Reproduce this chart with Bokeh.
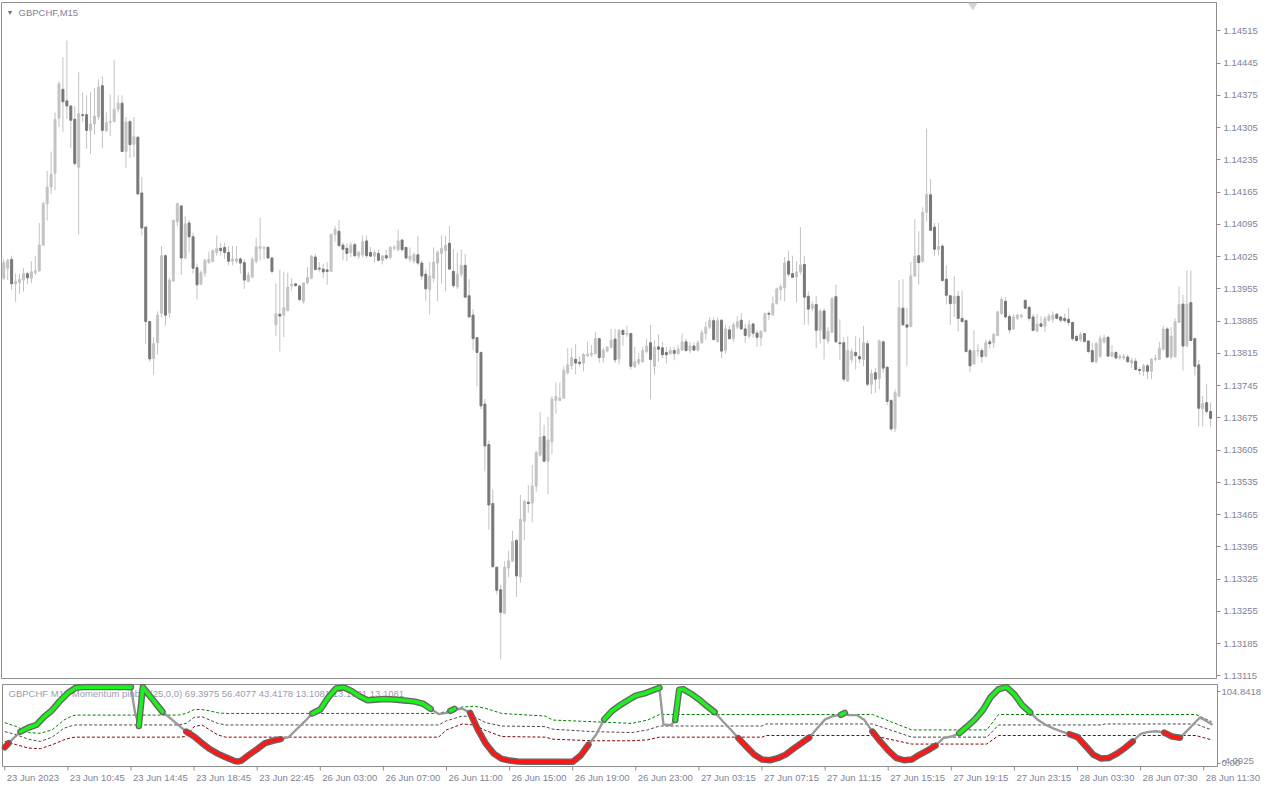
from bokeh.plotting import figure
from bokeh.models import Range1d, FixedTicker, PrintfTickFormatter, Label, ColumnDataSource
from bokeh.layouts import column
from bokeh.embed import file_html
from bokeh.resources import INLINE
from bokeh.core.properties import value

FONT = "Liberation Sans"
TXT = "#80829a"

# ---------------- price data (GBPCHF M15) ----------------
opens = [1.13978,1.14000,1.14019,1.13966,1.13969,1.13974,1.13988,1.13978,1.13990,1.13994,
1.14050,1.14140,1.14176,1.14206,1.14326,1.14388,1.14363,1.14352,1.14323,1.14219,
1.14333,1.14333,1.14299,1.14313,1.14328,1.14396,1.14298,1.14316,1.14318,1.14345,
1.14358,1.14253,1.14318,1.14269,1.14284,1.14163,1.14089,1.13884,1.13804,1.13838,
1.13902,1.14027,1.13903,1.13972,1.14101,1.14135,1.14022,1.14098,1.14068,1.14001,
1.13965,1.13989,1.14012,1.14015,1.14034,1.14043,1.14045,1.14034,1.14015,1.14015,
1.14020,1.14012,1.13971,1.13981,1.14015,1.14043,1.14043,1.14045,1.14022,1.13877,
1.13900,1.13898,1.13908,1.13962,1.13966,1.13961,1.13928,1.13968,1.13978,1.14024,
1.14000,1.13998,1.13996,1.13993,1.14073,1.14080,1.14050,1.14043,1.14034,1.14051,
1.14026,1.14029,1.14059,1.14034,1.14026,1.14032,1.14017,1.14027,1.14023,1.14043,
1.14040,1.14061,1.14045,1.14019,1.14015,1.14029,1.14011,1.13987,1.13953,1.13978,
1.14011,1.14032,1.14038,1.14054,1.13993,1.13960,1.13987,1.14006,1.13940,1.13898,
1.13849,1.13817,1.13705,1.13617,1.13489,1.13351,1.13302,1.13251,1.13349,1.13364,
1.13409,1.13330,1.13451,1.13492,1.13490,1.13527,1.13594,1.13635,1.13581,1.13623,
1.13713,1.13713,1.13718,1.13773,1.13788,1.13802,1.13796,1.13794,1.13810,1.13812,
1.13815,1.13847,1.13806,1.13820,1.13828,1.13846,1.13803,1.13865,1.13856,1.13858,
1.13786,1.13794,1.13797,1.13819,1.13838,1.13787,1.13829,1.13827,1.13817,1.13814,
1.13821,1.13815,1.13822,1.13840,1.13821,1.13831,1.13822,1.13838,1.13858,1.13872,
1.13886,1.13841,1.13887,1.13822,1.13866,1.13847,1.13872,1.13887,1.13868,1.13852,
1.13879,1.13859,1.13849,1.13863,1.13902,1.13899,1.13923,1.13953,1.13957,1.14015,
1.13988,1.13981,1.13992,1.14008,1.13939,1.13913,1.13921,1.13865,1.13907,1.13842,
1.13861,1.13938,1.13838,1.13838,1.13755,1.13801,1.13817,1.13808,1.13802,1.13836,
1.13748,1.13773,1.13760,1.13840,1.13785,1.13713,1.13652,1.13722,1.13913,1.13877,
1.13873,1.13983,1.14027,1.14015,1.14121,1.14159,1.14089,1.14041,1.14048,1.13976,
1.13940,1.13923,1.13939,1.13891,1.13886,1.13821,1.13792,1.13820,1.13821,1.13809,
1.13840,1.13838,1.13854,1.13901,1.13928,1.13895,1.13868,1.13891,1.13895,1.13930,
1.13915,1.13894,1.13863,1.13879,1.13874,1.13887,1.13889,1.13900,1.13894,1.13891,
1.13889,1.13882,1.13852,1.13845,1.13858,1.13842,1.13821,1.13797,1.13809,1.13840,
1.13850,1.13809,1.13817,1.13805,1.13805,1.13807,1.13794,1.13798,1.13780,1.13776,
1.13788,1.13776,1.13802,1.13802,1.13824,1.13868,1.13807,1.13808,1.13882,1.13922,
1.13831,1.13925,1.13847,1.13790,1.13695,1.13708,1.13689]

highs = [1.14020,1.14020,1.14027,1.13988,1.13988,1.14000,1.13992,1.14015,1.14027,1.14098,
1.14144,1.14211,1.14253,1.14338,1.14405,1.14458,1.14494,1.14352,1.14352,1.14425,
1.14381,1.14375,1.14382,1.14391,1.14410,1.14416,1.14338,1.14377,1.14451,1.14375,
1.14375,1.14328,1.14321,1.14328,1.14287,1.14198,1.14091,1.13886,1.13850,1.13906,
1.14048,1.14030,1.13979,1.14105,1.14142,1.14137,1.14113,1.14105,1.14077,1.14010,
1.13995,1.14020,1.14036,1.14041,1.14071,1.14055,1.14055,1.14048,1.14048,1.14048,
1.14024,1.14020,1.13992,1.14024,1.14066,1.14110,1.14048,1.14048,1.14024,1.13967,
1.13997,1.13992,1.13990,1.13978,1.13967,1.13964,1.13968,1.14002,1.14029,1.14031,
1.14013,1.14010,1.14013,1.14075,1.14091,1.14104,1.14056,1.14054,1.14056,1.14056,
1.14038,1.14071,1.14071,1.14046,1.14040,1.14041,1.14029,1.14040,1.14049,1.14050,
1.14084,1.14064,1.14045,1.14045,1.14034,1.14070,1.14017,1.13997,1.14013,1.14045,
1.14038,1.14071,1.14070,1.14091,1.14041,1.14034,1.14040,1.14031,1.13976,1.13911,
1.13851,1.13819,1.13716,1.13626,1.13520,1.13352,1.13313,1.13364,1.13387,1.13430,
1.13412,1.13508,1.13497,1.13529,1.13573,1.13603,1.13687,1.13660,1.13677,1.13722,
1.13752,1.13752,1.13786,1.13826,1.13826,1.13835,1.13808,1.13815,1.13840,1.13833,
1.13861,1.13849,1.13828,1.13831,1.13868,1.13868,1.13868,1.13866,1.13875,1.13859,
1.13829,1.13815,1.13829,1.13847,1.13877,1.13843,1.13856,1.13840,1.13829,1.13829,
1.13829,1.13833,1.13858,1.13847,1.13840,1.13838,1.13843,1.13866,1.13884,1.13894,
1.13894,1.13893,1.13889,1.13877,1.13875,1.13882,1.13896,1.13903,1.13879,1.13887,
1.13880,1.13865,1.13865,1.13904,1.13906,1.13939,1.13958,1.13965,1.14024,1.14038,
1.14027,1.14015,1.14089,1.14027,1.13949,1.13928,1.13940,1.13911,1.13913,1.13872,
1.13937,1.13964,1.13889,1.13850,1.13852,1.13826,1.13852,1.13849,1.13875,1.13843,
1.13780,1.13783,1.13845,1.13843,1.13787,1.13715,1.13737,1.13974,1.13976,1.13914,
1.14013,1.14106,1.14080,1.14132,1.14303,1.14193,1.14098,1.14098,1.14052,1.14006,
1.13942,1.13983,1.13951,1.13951,1.13889,1.13826,1.13865,1.13836,1.13826,1.13845,
1.13845,1.13859,1.13907,1.13937,1.13937,1.13900,1.13900,1.13901,1.13901,1.13932,
1.13918,1.13901,1.13900,1.13896,1.13896,1.13901,1.13906,1.13903,1.13896,1.13901,
1.13913,1.13884,1.13854,1.13861,1.13859,1.13843,1.13838,1.13840,1.13854,1.13856,
1.13852,1.13833,1.13821,1.13814,1.13814,1.13812,1.13805,1.13805,1.13785,1.13792,
1.13792,1.13805,1.13812,1.13840,1.13875,1.13872,1.13872,1.13891,1.13960,1.13942,
1.13995,1.13995,1.13849,1.13801,1.13723,1.13748,1.13709]

lows = [1.13974,1.13974,1.13953,1.13927,1.13944,1.13949,1.13965,1.13967,1.13985,1.13992,
1.14048,1.14103,1.14161,1.14169,1.14306,1.14296,1.14324,1.14260,1.14222,1.14073,
1.14317,1.14259,1.14248,1.14290,1.14321,1.14260,1.14296,1.14287,1.14316,1.14338,
1.14252,1.14217,1.14239,1.14241,1.14158,1.14071,1.13836,1.13797,1.13769,1.13812,
1.13893,1.13875,1.13893,1.13971,1.14091,1.13985,1.14020,1.14034,1.13988,1.13932,
1.13964,1.13981,1.14010,1.14012,1.14027,1.14027,1.14020,1.14006,1.14006,1.14010,
1.13988,1.13955,1.13971,1.13978,1.14010,1.14017,1.14020,1.14020,1.13988,1.13852,
1.13819,1.13850,1.13906,1.13951,1.13960,1.13928,1.13923,1.13965,1.13976,1.13995,
1.13992,1.13979,1.13964,1.13992,1.14057,1.14045,1.14017,1.14015,1.14024,1.14024,
1.14020,1.14024,1.14022,1.14024,1.14012,1.14015,1.14008,1.14019,1.14019,1.14038,
1.14036,1.14036,1.14019,1.14013,1.14010,1.14006,1.13974,1.13928,1.13899,1.13969,
1.13928,1.13967,1.13950,1.13996,1.13957,1.13955,1.13981,1.13935,1.13893,1.13822,
1.13743,1.13694,1.13559,1.13432,1.13350,1.13292,1.13151,1.13251,1.13329,1.13363,
1.13286,1.13317,1.13409,1.13469,1.13448,1.13515,1.13591,1.13578,1.13510,1.13596,
1.13684,1.13711,1.13716,1.13769,1.13780,1.13769,1.13786,1.13776,1.13807,1.13807,
1.13812,1.13795,1.13795,1.13817,1.13826,1.13794,1.13791,1.13831,1.13851,1.13780,
1.13783,1.13790,1.13795,1.13815,1.13715,1.13769,1.13797,1.13805,1.13793,1.13812,
1.13800,1.13812,1.13821,1.13819,1.13815,1.13821,1.13819,1.13836,1.13845,1.13868,
1.13843,1.13838,1.13805,1.13814,1.13845,1.13840,1.13868,1.13866,1.13838,1.13847,
1.13849,1.13829,1.13831,1.13861,1.13887,1.13896,1.13921,1.13930,1.13928,1.13981,
1.13978,1.13925,1.13986,1.13877,1.13877,1.13907,1.13826,1.13836,1.13802,1.13836,
1.13859,1.13838,1.13801,1.13753,1.13753,1.13794,1.13780,1.13794,1.13787,1.13744,
1.13727,1.13729,1.13737,1.13773,1.13703,1.13645,1.13644,1.13720,1.13875,1.13787,
1.13872,1.13981,1.13964,1.14012,1.14101,1.14080,1.14027,1.14027,1.13971,1.13921,
1.13877,1.13894,1.13863,1.13882,1.13817,1.13774,1.13790,1.13808,1.13794,1.13807,
1.13826,1.13826,1.13852,1.13899,1.13891,1.13858,1.13866,1.13887,1.13891,1.13911,
1.13886,1.13863,1.13861,1.13872,1.13861,1.13884,1.13882,1.13889,1.13882,1.13882,
1.13875,1.13842,1.13840,1.13840,1.13838,1.13815,1.13795,1.13794,1.13805,1.13836,
1.13808,1.13807,1.13802,1.13801,1.13800,1.13794,1.13783,1.13778,1.13769,1.13766,
1.13759,1.13759,1.13797,1.13801,1.13821,1.13805,1.13802,1.13805,1.13882,1.13778,
1.13829,1.13842,1.13767,1.13656,1.13656,1.13684,1.13656]

closes = [1.14012,1.14017,1.13966,1.13971,1.13976,1.13988,1.13979,1.13992,1.13994,1.14050,
1.14140,1.14176,1.14204,1.14323,1.14400,1.14361,1.14352,1.14321,1.14227,1.14335,
1.14331,1.14299,1.14313,1.14330,1.14393,1.14299,1.14316,1.14318,1.14345,1.14358,
1.14253,1.14317,1.14268,1.14285,1.14161,1.14087,1.13884,1.13803,1.13836,1.13898,
1.14027,1.13898,1.13974,1.14104,1.14140,1.14022,1.14096,1.14068,1.14000,1.13964,
1.13990,1.14017,1.14019,1.14038,1.14043,1.14038,1.14034,1.14015,1.14020,1.14020,
1.14011,1.13974,1.13985,1.14019,1.14046,1.14047,1.14045,1.14022,1.13993,1.13901,
1.13896,1.13914,1.13959,1.13965,1.13962,1.13932,1.13968,1.13980,1.14026,1.13997,
1.13998,1.13992,1.13993,1.14073,1.14084,1.14049,1.14041,1.14032,1.14050,1.14027,
1.14034,1.14057,1.14027,1.14026,1.14034,1.14017,1.14026,1.14022,1.14045,1.14045,
1.14059,1.14040,1.14022,1.14026,1.14029,1.14011,1.13983,1.13955,1.13983,1.14013,
1.14034,1.14043,1.14050,1.13998,1.13962,1.13987,1.14006,1.13937,1.13894,1.13847,
1.13817,1.13701,1.13614,1.13486,1.13352,1.13301,1.13253,1.13351,1.13365,1.13407,
1.13332,1.13455,1.13494,1.13489,1.13527,1.13600,1.13633,1.13581,1.13627,1.13716,
1.13722,1.13718,1.13778,1.13790,1.13806,1.13794,1.13793,1.13813,1.13813,1.13815,
1.13847,1.13806,1.13822,1.13828,1.13844,1.13801,1.13865,1.13856,1.13858,1.13787,
1.13797,1.13802,1.13821,1.13831,1.13802,1.13829,1.13824,1.13812,1.13812,1.13821,
1.13815,1.13824,1.13840,1.13821,1.13831,1.13822,1.13838,1.13860,1.13872,1.13886,
1.13845,1.13886,1.13820,1.13868,1.13847,1.13877,1.13884,1.13868,1.13854,1.13877,
1.13859,1.13850,1.13863,1.13901,1.13900,1.13923,1.13955,1.13960,1.14011,1.13987,
1.13980,1.13992,1.14007,1.13937,1.13911,1.13921,1.13865,1.13907,1.13847,1.13863,
1.13934,1.13840,1.13836,1.13759,1.13821,1.13819,1.13810,1.13803,1.13838,1.13748,
1.13771,1.13759,1.13842,1.13783,1.13711,1.13651,1.13730,1.13914,1.13877,1.13872,
1.13983,1.14026,1.14012,1.14121,1.14160,1.14082,1.14041,1.14047,1.13973,1.13941,
1.13923,1.13939,1.13891,1.13884,1.13819,1.13788,1.13821,1.13822,1.13808,1.13838,
1.13836,1.13856,1.13905,1.13932,1.13894,1.13866,1.13894,1.13898,1.13898,1.13913,
1.13891,1.13865,1.13879,1.13874,1.13891,1.13896,1.13898,1.13891,1.13887,1.13886,
1.13882,1.13847,1.13843,1.13856,1.13841,1.13819,1.13797,1.13836,1.13847,1.13849,
1.13809,1.13817,1.13805,1.13809,1.13809,1.13797,1.13800,1.13780,1.13778,1.13788,
1.13776,1.13802,1.13804,1.13826,1.13868,1.13807,1.13852,1.13884,1.13921,1.13831,
1.13922,1.13843,1.13787,1.13696,1.13706,1.13689,1.13674]

price_ticks = [1.13115, 1.13185, 1.13255, 1.13325, 1.13395, 1.13465, 1.13535,
               1.13605, 1.13675, 1.13745, 1.13815, 1.13885, 1.13955, 1.14025,
               1.14095, 1.14165, 1.14235, 1.14305, 1.14375, 1.14445, 1.14515]

time_tick_bars = [0, 16, 32, 48, 64, 80, 96, 112, 128, 144, 160, 176, 192,
                  208, 224, 240, 256, 272, 288, 304]
time_tick_labels = ["23 Jun 2023", "23 Jun 10:45", "23 Jun 14:45", "23 Jun 18:45",
                    "23 Jun 22:45", "26 Jun 03:00", "26 Jun 07:00", "26 Jun 11:00",
                    "26 Jun 15:00", "26 Jun 19:00", "26 Jun 23:00", "27 Jun 03:15",
                    "27 Jun 07:15", "27 Jun 11:15", "27 Jun 15:15", "27 Jun 19:15",
                    "27 Jun 23:15", "28 Jun 03:30", "28 Jun 07:30", "28 Jun 11:30"]

# ---------------- Momentum pinball indicator ----------------
ind_bar = [0, 1, 2,
           4, 6, 8, 10, 12, 14, 16, 18, 20, 22, 24, 26, 28, 30, 32,
           33, 34, 35, 36, 38, 40, 42, 44,
           46, 48, 50, 52, 54, 56, 58, 59, 60, 62, 64, 66, 68, 70,
           72, 74, 76,
           78, 80, 82, 84, 86, 88, 90, 92, 94, 96, 98, 100, 102, 104, 106, 108,
           110, 112, 113, 114, 115, 116,
           118, 120, 122, 124, 126, 128, 130, 132, 134, 136, 138, 140, 142, 144, 146, 148,
           150, 152, 154, 156, 158, 160, 162, 164, 166,
           167, 168, 169, 170, 171, 172, 174, 176, 178, 180,
           182, 184, 186, 188, 190, 192, 194, 196, 198, 200, 202, 204,
           206, 208, 210, 212, 213, 214, 216, 218,
           220, 222, 224, 226, 228, 230, 232, 234, 236,
           238, 240, 242, 244, 246, 248, 250, 252, 254, 256, 258, 260,
           262, 264, 266, 268, 270, 272, 274, 276, 278, 280, 282, 284, 286,
           288, 290, 292, 294, 296, 298, 300, 302, 303, 304, 306]
ind_val = [21.3, 27.0, 32.2,
           42.3, 47.5, 51.1, 62.0, 70.7, 83.0, 93.5, 100.5, 101.4, 101.4, 101.4, 101.4, 101.4, 101.4, 101.4,
           68.5, 49.7, 101.4, 94.8, 81.7, 68.5, 59.8, 51.1,
           42.3, 35.7, 27.0, 19.1, 13.0, 8.2, 3.8, 2.5, 3.8, 11.7, 19.1, 27.0, 30.1, 32.2,
           34.9, 45.4, 55.4,
           66.4, 71.6, 87.4, 99.6, 100.9, 96.1, 89.1, 83.9, 84.7, 85.6, 85.2, 84.3, 83.4, 82.1, 79.5, 72.5,
           65.5, 67.2, 69.8, 72.5, 72.0, 72.9,
           67.2, 44.5, 26.1, 13.0, 6.0, 3.8, 2.5, 2.1, 2.1, 2.1, 2.1, 2.1, 2.1, 2.1, 10.4, 24.8,
           38.8, 58.5, 69.8, 77.3, 83.9, 90.0, 92.6, 96.5, 100.5,
           51.9, 51.1, 51.1, 57.6, 97.9, 98.7, 92.6, 85.2, 76.4, 68.1,
           56.3, 45.4, 33.6, 22.6, 11.7, 5.1, 4.2, 6.9, 11.7, 19.6, 27.0, 34.4,
           46.7, 58.5, 62.9, 64.6, 67.2, 64.2, 64.2, 57.6,
           42.3, 29.2, 17.4, 7.3, 4.2, 5.1, 11.7, 17.4, 23.5,
           33.6, 35.7, 40.1, 48.9, 58.5, 70.7, 88.2, 98.7, 101.4, 91.7, 77.3, 67.7,
           57.6, 51.1, 46.2, 42.3, 38.8, 34.9, 23.5, 11.7, 6.4, 7.3, 13.0, 20.4, 29.2,
           39.2, 41.9, 42.7, 41.0, 35.7, 34.0, 44.5, 55.4, 60.7, 58.5, 51.9]
ind_state = ("RRN" "GGGGGGGGGGGGGGG" "N" "GGGGG" "NN" "RRRRRRRRRRRRRR" "NNN"
             "GGGGGGGGGGGGGGGG" "NN" "GG" "NN" "RRRRRRRRRRRRRRRR" "N" "GGGGGGGG"
             "NNN" "GGGGGGG" "NN" "RRRRRRRRRR" "NNN" "GG" "NNN" "RRRRRRRRR" "NN"
             "GGGGGGGGGG" "NNNN" "RRRRRRRRR" "NNN" "RRR" "NNNNN")

lvl_bar = [0, 3, 6, 9, 12, 15, 17, 18, 44, 46, 48, 50, 52, 54, 56, 110, 112, 116, 119,
           122, 126, 137, 139, 149, 159, 163, 166, 192, 193, 220, 230, 249, 252, 278,
           279, 302, 306]
lvl_high = [54.1, 48.9, 41.0, 40.1, 44.5, 57.6, 62.9, 64.2, 64.2, 66.4, 71.6, 71.6, 69.8,
            67.2, 66.4, 66.4, 69.0, 75.0, 76.0, 73.0, 66.4, 62.9, 57.6, 55.4, 53.2, 57.6,
            65.0, 65.0, 65.0, 65.0, 44.5, 44.5, 65.0, 65.0, 65.0, 65.0, 55.4]
lvl_mid = [42.3, 37.9, 32.2, 29.2, 34.9, 46.7, 50.2, 51.1, 51.1, 53.2, 61.1, 62.0, 57.6,
           53.2, 51.1, 51.1, 56.7, 62.9, 62.0, 54.1, 49.7, 48.9, 45.4, 42.3, 41.0, 44.5,
           49.7, 49.7, 52.4, 52.4, 34.9, 34.9, 51.1, 51.1, 52.4, 52.4, 44.5]
lvl_low = [29.2, 24.8, 20.4, 19.6, 24.8, 31.3, 34.4, 34.9, 34.9, 35.7, 48.9, 51.1, 44.5,
           37.9, 34.9, 34.9, 44.5, 52.4, 51.1, 43.6, 35.7, 34.9, 32.2, 30.1, 30.1, 31.3,
           34.9, 34.9, 37.1, 37.1, 25.7, 25.7, 37.1, 37.1, 37.1, 37.1, 31.3]

IND_MAX = 104.8418
IND_MIN = -4.0925
ind_axis_values = [IND_MAX, IND_MIN, 0.0]
ind_axis_labels = ["104.8418", "-4.0925", "0.00"]
ind_title = "GBPCHF M15 Momentum pinball(25,0,0) 69.3975 56.4077 43.4178 13.1081 13.1081 13.1081"

n = len(opens)
assert len(highs) == n and len(lows) == n and len(closes) == n
assert len(ind_bar) == len(ind_val) == len(ind_state), (len(ind_bar), len(ind_val), len(ind_state))
assert len(lvl_bar) == len(lvl_high) == len(lvl_mid) == len(lvl_low)

# ---------------- geometry ----------------
FW = 1215               # price frame width (px)
FULL_W = 1263           # total width (px)
X0, X1 = -0.575, 307.5  # visible bar range
Y0, Y1 = 1.131094, 1.145765
BPP = (X1 - X0) / FW    # bars per pixel
GRID = "#8e8e8e"

# ---------------- main price chart ----------------
p = figure(frame_width=FW, frame_height=676, x_range=Range1d(X0, X1), y_range=Range1d(Y0, Y1),
           output_backend="svg", toolbar_location=None, x_axis_location=None,
           y_axis_location="right", min_border_left=1, min_border_right=FULL_W - FW - 1,
           min_border_top=2, min_border_bottom=5, background_fill_color="white",
           border_fill_color="white", outline_line_color=GRID)
p.grid.visible = False
ya = p.yaxis[0]
ya.ticker = FixedTicker(ticks=price_ticks)
ya.formatter = PrintfTickFormatter(format="%.5f")
ya.axis_line_color = GRID
ya.major_tick_line_color = GRID
ya.major_tick_out = 4
ya.major_tick_in = 0
ya.minor_tick_line_color = None
ya.major_label_standoff = 3
ya.major_label_text_font = FONT
ya.major_label_text_font_size = "9.5px"
ya.major_label_text_color = TXT

bars = list(range(n))
up = [closes[i] >= opens[i] for i in bars]
wick = ColumnDataSource(dict(x=bars, lo=lows, hi=highs))
p.segment(x0="x", y0="lo", x1="x", y1="hi", source=wick, line_color="#c3c3c3", line_width=1)

up_src = ColumnDataSource(dict(x=[i for i in bars if up[i]],
                               top=[closes[i] for i in bars if up[i]],
                               bot=[opens[i] for i in bars if up[i]]))
dn_src = ColumnDataSource(dict(x=[i for i in bars if not up[i]],
                               top=[opens[i] for i in bars if not up[i]],
                               bot=[closes[i] for i in bars if not up[i]]))
p.vbar(x="x", top="top", bottom="bot", width=0.5, source=up_src,
       fill_color="#c3c3c3", line_color="#c3c3c3", line_width=1)
p.vbar(x="x", top="top", bottom="bot", width=0.5, source=dn_src,
       fill_color="#777777", line_color="#777777", line_width=1)

# chart-shift marker at the top edge
p.scatter(x=[245.7], y=[Y1 - 0.00006], marker="inverted_triangle", size=8,
          fill_color="#d4d4d4", line_color="#d4d4d4")

p.add_layout(Label(x=X0, y=Y1, x_offset=5, y_offset=-10, text="▼", text_font=FONT,
                   text_font_size="7px", text_color="#707070", text_baseline="middle"))
p.add_layout(Label(x=X0, y=Y1, x_offset=17, y_offset=-10, text="GBPCHF,M15", text_font=FONT,
                   text_font_size="9.5px", text_color=TXT, text_baseline="middle"))

# ---------------- indicator panel (own frame spanning the full width) ----------------
PANEL_H = 82
UPX = (IND_MAX - IND_MIN) / PANEL_H       # indicator units per pixel
QX0 = X0 - BPP                            # one pixel of room for the left border
QX1 = QX0 + FULL_W * BPP
QY1 = IND_MAX + UPX
QY0 = IND_MIN - 18 * UPX                  # room for the time axis labels

q = figure(frame_width=FULL_W, frame_height=PANEL_H + 19, x_range=Range1d(QX0, QX1),
           y_range=Range1d(QY0, QY1), output_backend="svg", toolbar_location=None,
           x_axis_location=None, y_axis_location=None, min_border=0,
           background_fill_color="white", border_fill_color="white", outline_line_color=None)
q.grid.visible = False

# indicator title (drawn first, the line passes over it)
q.text(x=[X0], y=[IND_MAX - 9 * UPX], text=[ind_title], x_offset=6,
       text_font=value(FONT), text_font_size="9.5px", text_color="#9a9cae",
       text_baseline="middle", text_align="left")

# panel border and axes
q.segment(x0=[X0, X0, X0, X1], y0=[IND_MAX, IND_MIN, IND_MIN, IND_MIN],
          x1=[X1, X1, X0, X1], y1=[IND_MAX, IND_MIN, IND_MAX, IND_MAX],
          line_color=GRID, line_width=1)
q.segment(x0=time_tick_bars, y0=[IND_MIN] * len(time_tick_bars),
          x1=time_tick_bars, y1=[IND_MIN - 4 * UPX] * len(time_tick_bars),
          line_color=GRID, line_width=1)
q.text(x=time_tick_bars, y=[IND_MIN - 10.5 * UPX] * len(time_tick_bars), text=time_tick_labels,
       x_offset=2, text_font=value(FONT), text_font_size="9.5px", text_color=TXT,
       text_baseline="middle", text_align="left")

# right value scale of the indicator window
lab_y = [IND_MAX - 7 * UPX, IND_MIN + 6 * UPX, 0.0]
q.segment(x0=[X1, X1], y0=[lab_y[0], lab_y[2]], x1=[X1 + 3 * BPP, X1 + 3 * BPP],
          y1=[lab_y[0], lab_y[2]], line_color=GRID, line_width=1)
q.text(x=[X1] * 3, y=lab_y, text=ind_axis_labels, x_offset=4, text_font=value(FONT),
       text_font_size="9.5px", text_color=TXT, text_baseline="middle", text_align="left")

# dashed levels
q.line(lvl_bar, lvl_high, line_color="#008000", line_width=1, line_dash="3 2")
q.line(lvl_bar, lvl_mid, line_color="#4a4a4a", line_width=1, line_dash="3 2")
q.line(lvl_bar, lvl_low, line_color="#8b0000", line_width=1, line_dash="3 2")

# split main line into runs by colour state
runs = {"N": [], "G": [], "R": []}
cur_cls, cur_x, cur_y = None, [], []
for i in range(len(ind_bar) - 1):
    s0, s1 = ind_state[i], ind_state[i + 1]
    cls = s0 if (s0 == s1 and s0 in "GR") else "N"
    if cls != cur_cls:
        if cur_cls is not None:
            runs[cur_cls].append((cur_x, cur_y))
        cur_cls, cur_x, cur_y = cls, [ind_bar[i]], [ind_val[i]]
    cur_x.append(ind_bar[i + 1])
    cur_y.append(ind_val[i + 1])
runs[cur_cls].append((cur_x, cur_y))

def ml(cls):
    return [r[0] for r in runs[cls]], [r[1] for r in runs[cls]]

nx, ny = ml("N")
q.multi_line(nx, ny, line_color="#9a9a9a", line_width=2.4, line_join="round", line_cap="round")
for cls, col in (("G", "#1ef01e"), ("R", "#ff1616")):
    xs, ys = ml(cls)
    q.multi_line(xs, ys, line_color="#666666", line_width=6.5, line_join="round", line_cap="round")
    q.multi_line(xs, ys, line_color=col, line_width=3.8, line_join="round", line_cap="round")

layout = column(p, q, spacing=0)
open("out.html", "w").write(file_html(layout, INLINE))
